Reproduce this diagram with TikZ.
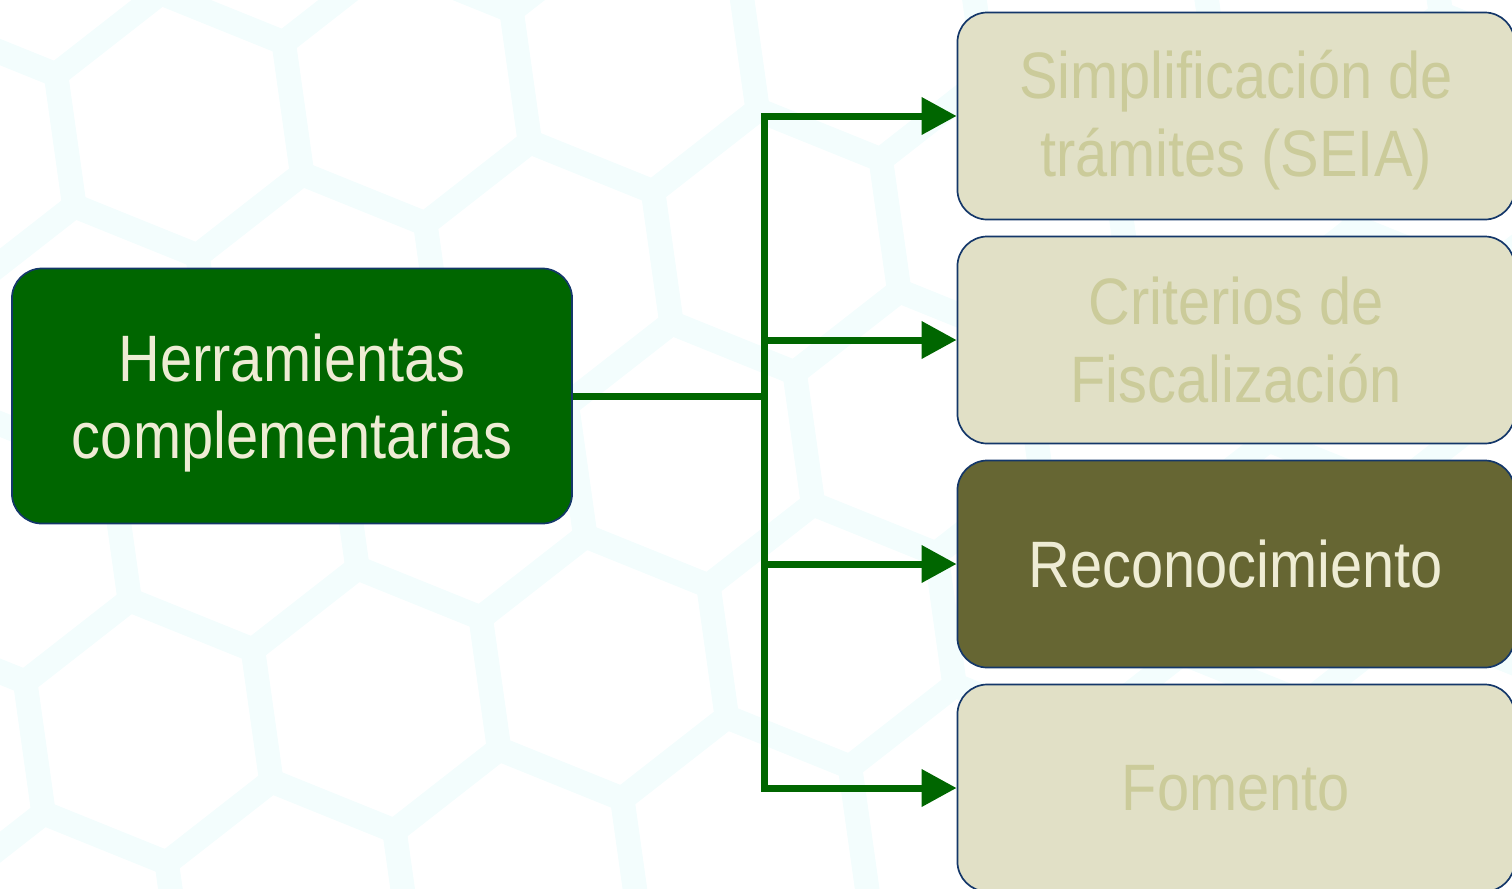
\documentclass[tikz,border=0pt]{standalone}
\usepackage{fontspec}
\setmainfont{Liberation Sans}[FakeStretch=0.88]
\usetikzlibrary{arrows.meta,positioning}

\definecolor{hojagreen}{RGB}{0,102,0}
\definecolor{olivebox}{RGB}{102,102,51}
\definecolor{palebox}{RGB}{225,224,198}
\definecolor{paletext}{RGB}{203,203,154}
\definecolor{creamtext}{RGB}{238,236,212}
\definecolor{navyline}{RGB}{20,55,105}
\definecolor{hexcyan}{RGB}{243,253,253}

\begin{document}
\begin{tikzpicture}[x=0.025cm,y=-0.025cm,
  box/.style={draw=navyline,line width=1.2pt,rounded corners=0.75cm,align=center,
    font=\fontsize{46.7}{55}\selectfont},
  main/.style={box,fill=hojagreen,text=creamtext,minimum width=14cm,minimum height=6.375cm,
    text depth=0pt},
  tool/.style={box,fill=palebox,text=paletext,minimum width=13.925cm,minimum height=5.175cm},
  current/.style={tool,fill=olivebox,text=creamtext},
  link/.style={draw=hojagreen,line width=0.175cm},
  arrow/.style={-{Triangle[length=0.875cm,width=0.9cm]}}]
\useasboundingbox (0,0) rectangle (1512,888);
\clip (0,0) rectangle (1512,888);
% background hexagons
\begin{scope}[rotate=8]
\foreach \i in {0,...,9} \foreach \j in {0,...,7} {
  \pgfmathsetmacro\cx{\i*230+mod(\j,2)*115-300}
  \pgfmathsetmacro\cy{\j*199-250}
  \draw[hexcyan,line width=0.6cm] (\cx,\cy) +(90:133) -- +(150:133) -- +(210:133)
    -- +(270:133) -- +(330:133) -- +(30:133) -- cycle;
}
\end{scope}
% boxes
\node[main] at (292,396) (herr) {Herramientas\\complementarias};
\node[tool,text depth=4pt] at (1236,116) (simp) {Simplificación de\\trámites (SEIA)};
\node[tool] at (1236,340) (crit) {Criterios de\\Fiscalización};
\node[current] at (1236,564) (reco) {Reconocimiento};
\node[tool] at (1236,788) (fom) {Fomento};
\coordinate (junct) at (764,396);
% connectors
\draw[link] (herr) -- (junct);
\foreach \n in {simp,crit,reco,fom}
  \draw[link,arrow] (junct) |- (\n);
\end{tikzpicture}
\end{document}
